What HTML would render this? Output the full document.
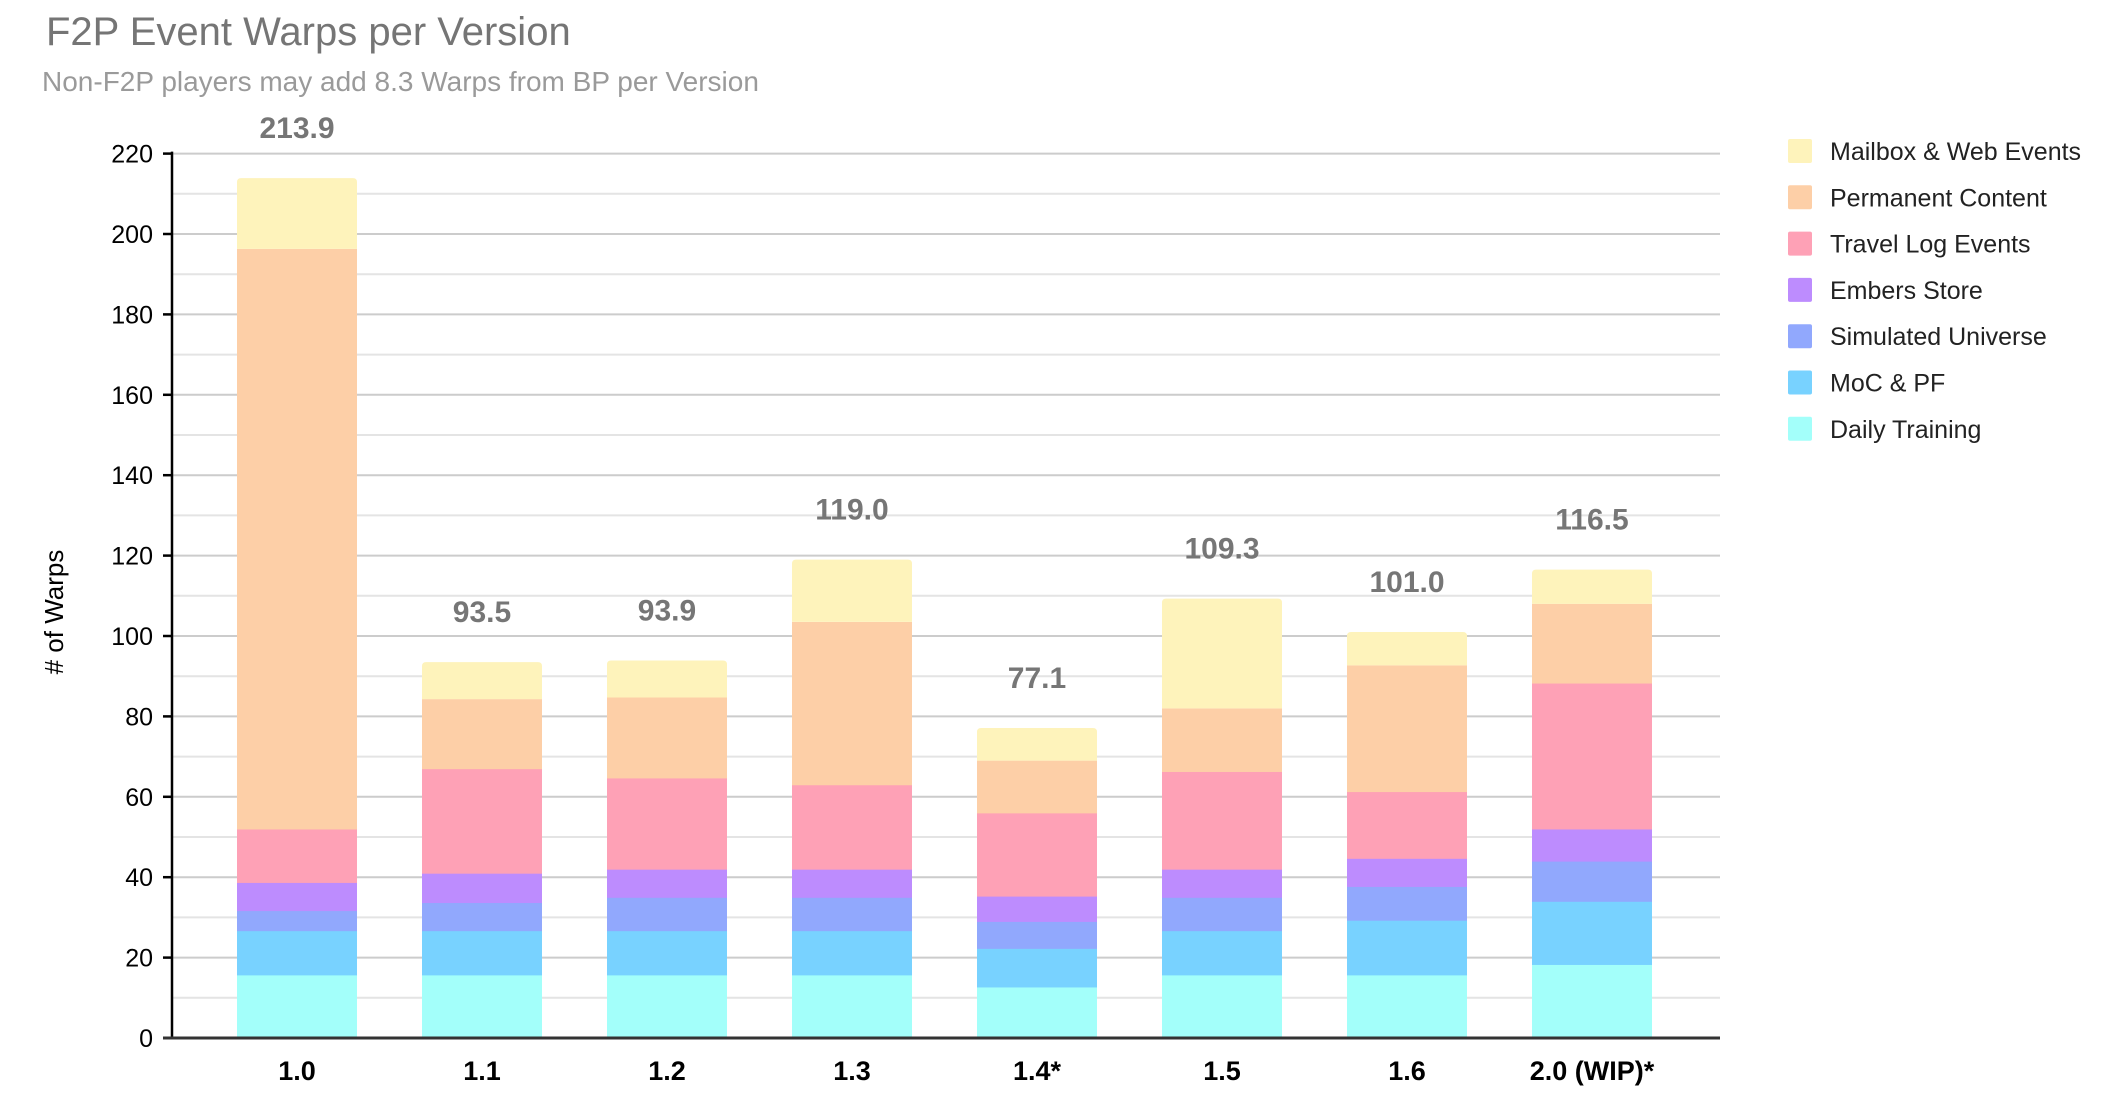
<!DOCTYPE html>
<html><head><meta charset="utf-8"><style>
html,body{margin:0;padding:0;background:#fff;}
svg{display:block;font-family:"Liberation Sans",Arial,sans-serif;}
</style></head><body>
<svg width="2107" height="1112" viewBox="0 0 2107 1112" xmlns="http://www.w3.org/2000/svg">
<text x="46" y="45" font-size="40" fill="#757575">F2P Event Warps per Version</text>
<text x="42" y="91" font-size="28" fill="#9a9a9a">Non-F2P players may add 8.3 Warps from BP per Version</text>
<g id="grid"></g>
<g id="bars"></g>
<g id="labels"></g>
<text transform="translate(63,612) rotate(-90)" text-anchor="middle" font-size="26" fill="#000"># of Warps</text>
<g id="legend" font-size="25" fill="#222"></g>
<script>
const NS="http://www.w3.org/2000/svg";
function el(p,t,a,txt){const e=document.createElementNS(NS,t);for(const k in a)e.setAttribute(k,a[k]);if(txt!=null)e.textContent=txt;p.appendChild(e);return e;}
const y0=1038, k=4.02, ax=172, xr=1720;
const Y=v=>y0-v*k;
const grid=document.getElementById('grid');
for(let v=10;v<=220;v+=10){
  el(grid,'line',{x1:ax,x2:xr,y1:Y(v),y2:Y(v),stroke:v%20?'#e4e4e4':'#cccccc','stroke-width':2});
}
for(let v=0;v<=220;v+=20){
  el(grid,'line',{x1:ax-9,x2:ax,y1:Y(v),y2:Y(v),stroke:'#000','stroke-width':2.5});
  el(grid,'text',{x:153,y:Y(v)+9,'text-anchor':'end','font-size':25,fill:'#000'},String(v));
}
const colors=['#a3fffa','#78d2ff','#91a8fd','#bd8cfe','#fea1b6','#fdcfa7','#fef3bb'];
const data=[
 ['1.0',[15.7,26.7,31.7,38.7,52,196.3,213.9],'213.9'],
 ['1.1',[15.7,26.7,33.7,41,67,84.3,93.5],'93.5'],
 ['1.2',[15.7,26.7,35,42,64.7,84.7,93.9],'93.9'],
 ['1.3',[15.7,26.7,35,42,63,103.5,119],'119.0'],
 ['1.4*',[12.7,22.3,29,35.3,56,69,77.1],'77.1'],
 ['1.5',[15.7,26.7,35,42,66.3,82,109.3],'109.3'],
 ['1.6',[15.7,29.3,37.7,44.7,61.3,92.7,101],'101.0'],
 ['2.0 (WIP)*',[18.3,34,44,52,88.3,108,116.5],'116.5']
];
const bars=document.getElementById('bars'),lab=document.getElementById('labels');
data.forEach((d,i)=>{
  const x=237+i*185,w=120;let prev=0;
  d[1].forEach((v,j)=>{
    if(j==6){
      const t=Y(v),b=Y(prev),r=4;
      el(bars,'path',{d:`M${x},${b}V${t+r}Q${x},${t} ${x+r},${t}H${x+w-r}Q${x+w},${t} ${x+w},${t+r}V${b}Z`,fill:colors[j]});
    } else el(bars,'rect',{x:x,y:Y(v),width:w,height:Y(prev)-Y(v)+0.5,fill:colors[j]});
    prev=v;
  });
  el(lab,'text',{x:x+w/2,y:Y(d[1][6])-40,'text-anchor':'middle','font-size':30,'font-weight':'bold',fill:'#767676'},d[2]);
  el(lab,'text',{x:x+w/2,y:1080,'text-anchor':'middle','font-size':27,'font-weight':'bold',fill:'#000'},d[0]);
});
el(grid,'line',{x1:ax,x2:ax,y1:Y(220)-2,y2:y0,stroke:'#000','stroke-width':2.5});
el(lab,'line',{x1:ax-9,x2:xr,y1:y0,y2:y0,stroke:'#333','stroke-width':3});
const names=['Mailbox & Web Events','Permanent Content','Travel Log Events','Embers Store','Simulated Universe','MoC & PF','Daily Training'];
const lg=document.getElementById('legend');
names.forEach((n,i)=>{
  const cy=151+i*46.3;
  el(lg,'rect',{x:1788,y:cy-12,width:24,height:24,rx:2,fill:colors[6-i]});
  el(lg,'text',{x:1830,y:cy+9},n);
});
</script>
</svg>
</body></html>
